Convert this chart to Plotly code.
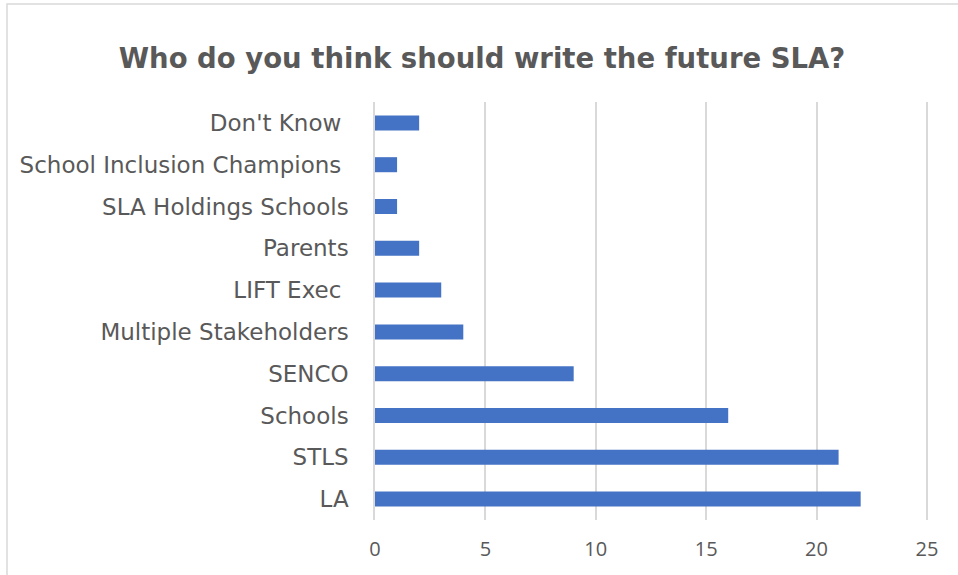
import plotly.graph_objects as go

# Survey responses: who should write the future SLA
categories = ["LA", "STLS", "Schools", "SENCO", "Multiple Stakeholders",
              "LIFT Exec\u00a0", "Parents", "SLA Holdings Schools",
              "School Inclusion Champions\u00a0", "Don't Know\u00a0"]
counts = [22, 21, 16, 9, 4, 3, 2, 1, 1, 2]
x_ticks = [0, 5, 10, 15, 20, 25]

W, H = 958, 575
L, R, T, B = 375, 30, 102, 55
pw, ph = W - L - R, H - T - B

def px_to_paper_x(px):
    return (px - L) / pw

def px_to_paper_y(py):
    return 1 - (py - T) / ph

fig = go.Figure(go.Bar(
    x=counts, y=categories, orientation="h",
    marker=dict(color="#4472C4", line=dict(width=0)),
    width=0.36,
))

fig.update_layout(
    width=W, height=H,
    margin=dict(l=L, r=R, t=T, b=B),
    paper_bgcolor="white", plot_bgcolor="white",
    showlegend=False,
    title=dict(
        text="<b>Who do you think should write the future SLA?</b>",
        x=482 / W, xref="container", xanchor="center",
        y=1 - 58 / H, yref="container", yanchor="middle",
        font=dict(family="DejaVu Sans", size=27.5, color="#595959"),
    ),
    xaxis=dict(
        range=[0, 25.05], tickvals=x_ticks, ticktext=[str(v) for v in x_ticks],
        showgrid=True, gridcolor="#d9d9d9", gridwidth=1.5,
        zeroline=False, showline=False,
        tickfont=dict(family="Open Sans", size=20, color="#595959"),
        ticks="", ticklabelstandoff=15,
    ),
    yaxis=dict(
        categoryorder="array", categoryarray=categories,
        showgrid=False, zeroline=False,
        showline=True, linecolor="#d9d9d9", linewidth=1.5,
        tickfont=dict(family="DejaVu Sans", size=23, color="#595959"),
        ticks="", ticklabelstandoff=20,
        range=[-0.5, 9.5],
    ),
    shapes=[dict(
        type="rect", xref="paper", yref="paper",
        x0=px_to_paper_x(7), x1=px_to_paper_x(970),
        y0=px_to_paper_y(590), y1=px_to_paper_y(4),
        line=dict(color="#d9d9d9", width=1.5), fillcolor="rgba(0,0,0,0)",
        layer="below",
    )],
)

fig.write_html("out.html")
